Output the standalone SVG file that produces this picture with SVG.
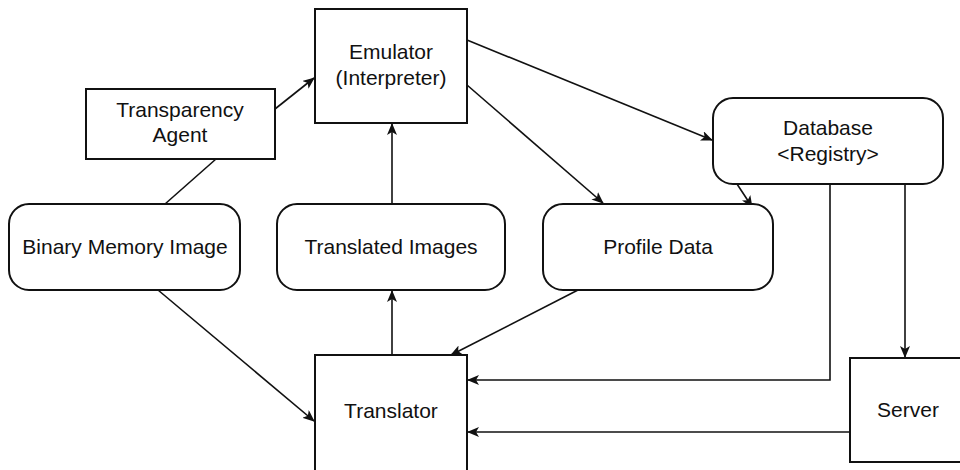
<svg xmlns="http://www.w3.org/2000/svg" width="960" height="470" viewBox="0 0 960 470">
<defs>
<style>
.box{fill:#fff;stroke:#111;stroke-width:2}
.lbl{font-family:"Liberation Sans",Arial,sans-serif;font-size:21px;fill:#111;text-anchor:middle}
.c{fill:none;stroke:#111;stroke-width:1.6}
</style>
<marker id="ah" viewBox="0 0 12 10" refX="11" refY="5" markerWidth="12" markerHeight="10" markerUnits="userSpaceOnUse" orient="auto">
<path d="M0,0 L12,5 L0,10 L3,5 Z" fill="#111"/>
</marker>
</defs>
<rect width="960" height="470" fill="#fff"/>
<g id="connectors">
<path class="c" d="M275,109 L314,78" marker-end="url(#ah)"/>
<path class="c" d="M216,159 L165,204"/>
<path class="c" d="M392,204 L392,124" marker-end="url(#ah)"/>
<path class="c" d="M467,40 L712,140" marker-end="url(#ah)"/>
<path class="c" d="M467,85 L603,203" marker-end="url(#ah)"/>
<path class="c" d="M737,184 Q745,196 752,207" marker-end="url(#ah)"/>
<path class="c" d="M830,184 L830,380 L468,380" marker-end="url(#ah)"/>
<path class="c" d="M905,184 L905,357" marker-end="url(#ah)"/>
<path class="c" d="M850,432 L468,432" marker-end="url(#ah)"/>
<path class="c" d="M392,355 L392,291" marker-end="url(#ah)"/>
<path class="c" d="M158,290 L314,421" marker-end="url(#ah)"/>
<path class="c" d="M578,290 L451,355" marker-end="url(#ah)"/>
</g>
<g id="emulator">
<rect class="box" x="315" y="9" width="152" height="114"/>
<text class="lbl" x="391" y="59">Emulator</text>
<text class="lbl" x="391" y="85">(Interpreter)</text>
</g>
<g id="transparency-agent">
<rect class="box" x="86" y="89" width="189" height="70"/>
<text class="lbl" x="180" y="117">Transparency</text>
<text class="lbl" x="180" y="142">Agent</text>
</g>
<g id="binary-memory-image">
<rect class="box" x="9" y="204" width="231" height="86" rx="20"/>
<text class="lbl" x="125" y="254">Binary Memory Image</text>
</g>
<g id="translated-images">
<rect class="box" x="277" y="204" width="228" height="86" rx="20"/>
<text class="lbl" x="391" y="254">Translated Images</text>
</g>
<g id="profile-data">
<rect class="box" x="543" y="204" width="230" height="86" rx="20"/>
<text class="lbl" x="658" y="254">Profile Data</text>
</g>
<g id="database">
<rect class="box" x="713" y="98" width="230" height="86" rx="20"/>
<text class="lbl" x="828" y="135">Database</text>
<text class="lbl" x="828" y="161">&lt;Registry&gt;</text>
</g>
<g id="translator">
<rect class="box" x="315" y="355" width="152" height="130"/>
<text class="lbl" x="391" y="418">Translator</text>
</g>
<g id="server">
<rect class="box" x="850" y="358" width="130" height="104"/>
<text class="lbl" x="908" y="417">Server</text>
</g>
</svg>
